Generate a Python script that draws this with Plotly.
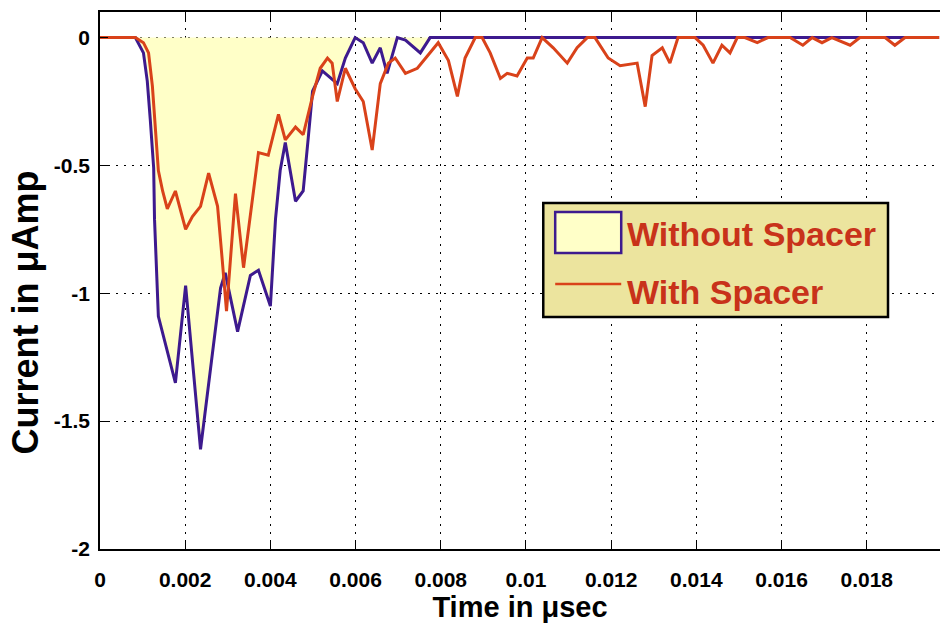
import plotly.graph_objects as go

# ---- data (time in microseconds, current in microamps) ----
t_without = [0.0, 0.00083, 0.00102, 0.00111, 0.00118, 0.00126, 0.00128, 0.00137, 0.00177,
             0.00201, 0.00236, 0.00283, 0.00294, 0.00323, 0.00353, 0.00372, 0.00400,
             0.00412, 0.00423, 0.00435, 0.00459, 0.00477, 0.00489, 0.00499, 0.00522,
             0.00557, 0.00576, 0.00599, 0.00618, 0.00639, 0.00658, 0.00674, 0.00698,
             0.00717, 0.00752, 0.00775, 0.0197]
i_without = [0.0, 0.0, -0.06, -0.17, -0.32, -0.51, -0.71, -1.09, -1.35,
             -0.97, -1.61, -0.98, -0.92, -1.15, -0.93, -0.91, -1.05,
             -0.71, -0.52, -0.41, -0.64, -0.60, -0.39, -0.21, -0.13,
             -0.18, -0.08, 0.0, -0.02, -0.10, -0.04, -0.14, 0.0,
             -0.01, -0.06, 0.0, 0.0]

t_with = [0.0, 0.00083, 0.00102, 0.00114, 0.00123, 0.00130, 0.00137, 0.00147, 0.00158,
          0.00177, 0.00201, 0.00217, 0.00236, 0.00255, 0.00276, 0.00287, 0.00297,
          0.00318, 0.00337, 0.00372, 0.00395, 0.00419, 0.00435, 0.00459, 0.00477,
          0.00499, 0.00517, 0.00534, 0.00545, 0.00557, 0.00576, 0.00599, 0.00618,
          0.00639, 0.00658, 0.00677, 0.00693, 0.00717, 0.00745, 0.00794, 0.00818,
          0.00839, 0.00857, 0.00881, 0.00897, 0.00916, 0.00940, 0.00956, 0.00979,
          0.01003, 0.01017, 0.01038, 0.01064, 0.01097, 0.01120, 0.01144, 0.01162,
          0.01193, 0.01221, 0.01261, 0.01280, 0.01296, 0.01320, 0.01338, 0.01357,
          0.01397, 0.01416, 0.01439, 0.01460, 0.01479, 0.01496, 0.01514, 0.01543,
          0.01568, 0.01620, 0.01650, 0.01672, 0.01695, 0.01718, 0.01761, 0.01784,
          0.01843, 0.01866, 0.01890, 0.0197]
i_with = [0.0, 0.0, -0.02, -0.06, -0.19, -0.36, -0.52, -0.60, -0.67,
          -0.60, -0.75, -0.70, -0.66, -0.53, -0.66, -0.87, -1.07,
          -0.61, -0.90, -0.45, -0.46, -0.30, -0.40, -0.35, -0.38,
          -0.23, -0.12, -0.08, -0.10, -0.25, -0.12, -0.20, -0.25,
          -0.44, -0.18, -0.10, -0.08, -0.14, -0.12, -0.02, -0.09,
          -0.23, -0.08, 0.0, 0.0, -0.06, -0.16, -0.14, -0.15,
          -0.08, -0.08, 0.0, -0.04, -0.10, -0.04, 0.0, 0.0,
          -0.08, -0.11, -0.10, -0.27, -0.07, -0.04, -0.10, 0.0,
          0.0, -0.03, -0.10, -0.03, -0.06, 0.0, 0.0, -0.02,
          0.0, 0.0, -0.03, 0.0, -0.02, 0.0, -0.03, 0.0,
          0.0, -0.03, 0.0, 0.0]

x_ticks = [0, 0.002, 0.004, 0.006, 0.008, 0.01, 0.012, 0.014, 0.016, 0.018]
x_tick_text = ["0", "0.002", "0.004", "0.006", "0.008", "0.01", "0.012", "0.014", "0.016", "0.018"]
y_ticks = [-2, -1.5, -1, -0.5, 0]
y_tick_text = ["-2", "-1.5", "-1", "-0.5", "0"]

series_names = ["Without Spacer", "With Spacer"]
x_title = "Time in μsec"
y_title = "Current in μAmp"

BLUE = "#3d1a8e"
RED = "#d9421a"
FILL = "#ffffc8"
LEG_BG = "#ece49e"
LEG_TXT = "#c8321a"
FONT = "Liberation Sans, Arial, sans-serif"

fig = go.Figure()
fig.add_trace(go.Scatter(x=t_without, y=i_without, mode="lines", name=series_names[0],
                         line=dict(color=BLUE, width=3), fill="tozeroy", fillcolor=FILL,
                         showlegend=False))
fig.add_trace(go.Scatter(x=t_with, y=i_with, mode="lines", name=series_names[1],
                         line=dict(color=RED, width=3), showlegend=False))

axis_common = dict(
    showline=True, linecolor="black", linewidth=1.5,
    ticks="inside", ticklen=8, tickcolor="black", tickwidth=1.2,
    showgrid=True, gridcolor="black", gridwidth=1, griddash="2px,6px",
    zeroline=False,
    tickfont=dict(family=FONT, size=21, color="black", weight="bold"),
)

fig.update_xaxes(range=[0, 0.01972], tickvals=x_ticks, ticktext=x_tick_text,
                 mirror="ticks", ticklabelstandoff=11,
                 title=dict(text=x_title, standoff=2,
                            font=dict(family=FONT, size=29, color="black", weight="bold")),
                 **axis_common)
fig.update_yaxes(range=[-2, 0.1], tickvals=y_ticks, ticktext=y_tick_text,
                 mirror=False, ticklabelstandoff=4, **axis_common)

# y-axis title placed as rotated text, as in the reference
fig.add_annotation(xref="paper", yref="paper", x=-0.0886, y=0.4395, xanchor="center", yanchor="middle",
                   text=y_title, textangle=-90, showarrow=False,
                   font=dict(family=FONT, size=36, color="black", weight="bold"))

# legend drawn as a boxed panel (paper coordinates of the plot area)
fig.add_shape(type="rect", xref="paper", yref="paper", x0=0.5277, x1=0.9381, y0=0.4320, y1=0.6443,
              fillcolor=LEG_BG, line=dict(color="black", width=2.5), layer="above")
fig.add_shape(type="rect", xref="paper", yref="paper", x0=0.5419, x1=0.6205, y0=0.5512, y1=0.6276,
              fillcolor=FILL, line=dict(color=BLUE, width=2.5), layer="above")
fig.add_shape(type="line", xref="paper", yref="paper", x0=0.5419, x1=0.6205, y0=0.4935, y1=0.4935,
              line=dict(color=RED, width=2.5), layer="above")
fig.add_annotation(xref="paper", yref="paper", x=0.6250, y=0.5866, xanchor="left", yanchor="middle",
                   text=series_names[0], showarrow=False,
                   font=dict(family=FONT, size=34, color=LEG_TXT, weight="bold"))
fig.add_annotation(xref="paper", yref="paper", x=0.6250, y=0.4786, xanchor="left", yanchor="middle",
                   text=series_names[1], showarrow=False,
                   font=dict(family=FONT, size=34, color=LEG_TXT, weight="bold"))

fig.update_layout(width=940, height=626, margin=dict(l=100, r=0, t=12, b=77),
                  plot_bgcolor="white", paper_bgcolor="white", showlegend=False)

fig.write_html("out.html")
